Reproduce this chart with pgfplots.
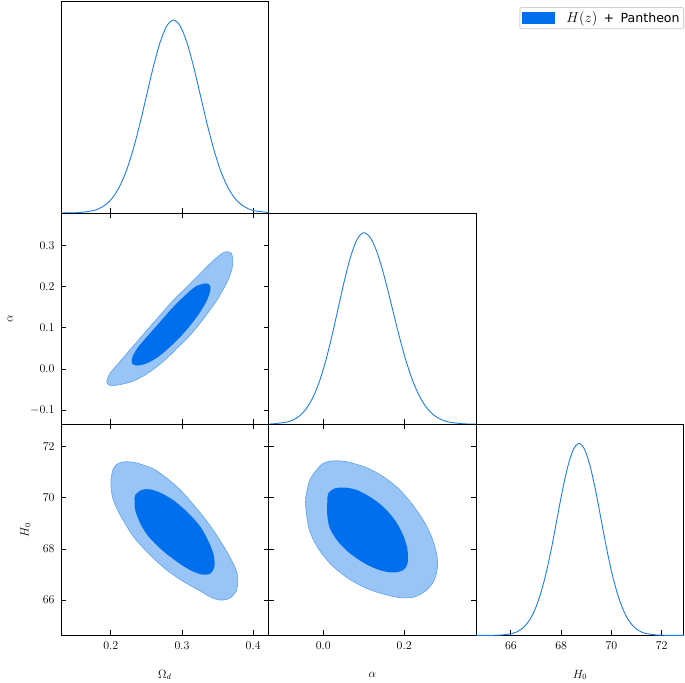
\documentclass[border=0pt]{standalone}
\usepackage{fontspec}
\usepackage{pgfplots}
\pgfplotsset{compat=1.18}
\newfontfamily\djv{DejaVu Sans}
\definecolor{cdark}{HTML}{006FED}
\definecolor{clight}{HTML}{99C4F6}
\definecolor{cedge}{HTML}{5EA2F2}
\definecolor{cline}{HTML}{1A7DF0}
\pgfplotsset{
  tri/.style={scale only axis, width=207.6bp, height=211.2bp,
    axis line style={line width=0.8bp, black},
    tick style={line width=0.8bp, black},
    major tick length=5bp, tick align=inside,
    ticklabel style={font=\fontsize{12}{14}\selectfont},
    label style={font=\fontsize{12}{14}\selectfont},
    xlabel style={at={(axis description cs:0.5,-0.187)}, anchor=center},
    xticklabel style={yshift=-3bp},
    yticklabel style={xshift=-3bp},
    anchor=south west},
  one/.style={tri, ytick=\empty, xtick pos=left, xticklabel=\empty},
  c1/.style={fill=clight, draw=cedge, line width=0.6bp, smooth cycle},
  c2/.style={fill=cdark, draw=none, smooth cycle},
  l1/.style={cline, line width=0.9bp, smooth, no marks}
}
\begin{document}
\begin{tikzpicture}[x=1bp,y=1bp]
\useasboundingbox (0,0) rectangle (685,683);
% ---------- top-left: Omega_d marginal ----------
\begin{axis}[one, at={(61bp,470bp)},
  xmin=0.130, xmax=0.4216, ymin=0, ymax=1.095,
  xtick={0.2,0.3,0.4},
  legend style={at={(axis description cs:3.001,0.975)}, anchor=north east,
    draw=black!18, rounded corners=2bp, line width=0.8bp,
    font=\fontsize{12.6}{14}\selectfont, inner xsep=2bp, inner ysep=2.5bp,
    /tikz/every odd column/.append style={column sep=10bp}},
  legend cell align=left]
\addlegendimage{legend image code/.code={\fill[cdark, sharp corners] (0bp,-5.8bp) rectangle (31.7bp,5.8bp);}}
\addlegendentry{{\fontsize{14}{16}\selectfont$H(z)$}\hspace{6.5bp}{\djv +}\hspace{6.5bp}{\djv Pantheon}}
\addplot[l1] coordinates {
(0.130,0.0002) (0.136,0.0003) (0.155,0.0022) (0.174,0.0111) (0.1835,0.0228)
(0.193,0.0439) (0.2025,0.0796) (0.212,0.1353) (0.2215,0.2163) (0.231,0.3247)
(0.2405,0.4578) (0.250,0.6065) (0.2595,0.7548) (0.269,0.8825) (0.2785,0.9692)
(0.288,1.0) (0.2975,0.9692) (0.307,0.8825) (0.3165,0.7548) (0.326,0.6065)
(0.3355,0.4578) (0.345,0.3247) (0.3545,0.2163) (0.364,0.1353) (0.3735,0.0796)
(0.383,0.0439) (0.3925,0.0228) (0.402,0.0111) (0.421,0.0022)};
\end{axis}
% ---------- middle-left: Omega_d vs alpha ----------
\begin{axis}[tri, at={(61bp,258.8bp)},
  xmin=0.130, xmax=0.4216, ymin=-0.134, ymax=0.378,
  xtick={0.2,0.3,0.4}, xticklabel=\empty,
  ytick={-0.1,0,0.1,0.2,0.3}, yticklabels={$-0.1$,$0.0$,$0.1$,$0.2$,$0.3$},
  ylabel={$\alpha$}, ylabel style={at={(axis description cs:-0.2455,0.5)}, anchor=center}]
\addplot[c1] coordinates {
(0.3633,0.2841) (0.3694,0.2801) (0.3713,0.2639) (0.3703,0.2437) (0.3657,0.2195)
(0.3586,0.1953) (0.3492,0.1671) (0.3375,0.1388) (0.3234,0.1065) (0.3094,0.0783)
(0.2953,0.0541) (0.2812,0.0299) (0.2648,0.0056) (0.2483,-0.0145) (0.2296,-0.0307)
(0.2108,-0.0387) (0.1990,-0.0404) (0.1943,-0.0307) (0.1990,-0.0105) (0.2108,0.0137)
(0.2249,0.0420) (0.2389,0.0702) (0.2530,0.0985) (0.2695,0.1307) (0.2859,0.1630)
(0.3047,0.1953) (0.3234,0.2276) (0.3422,0.2599) (0.3563,0.2801)};
\addplot[c2] coordinates {
(0.3328,0.2074) (0.3389,0.2034) (0.3399,0.1913) (0.3352,0.1671) (0.3258,0.1388)
(0.3140,0.1106) (0.3000,0.0823) (0.2835,0.0541) (0.2671,0.0299) (0.2507,0.0137)
(0.2366,0.0081) (0.2296,0.0137) (0.2305,0.0299) (0.2389,0.0541) (0.2530,0.0823)
(0.2695,0.1146) (0.2859,0.1469) (0.3023,0.1751) (0.3187,0.1994)};
\end{axis}
% ---------- middle-centre: alpha marginal ----------
\begin{axis}[one, at={(268.6bp,258.8bp)},
  xmin=-0.135, xmax=0.378, ymin=0, ymax=1.103,
  xtick={0,0.2}]
\addplot[l1] coordinates {
(-0.135,0.0010) (-0.1218,0.0022) (-0.0900,0.0111) (-0.0741,0.0228) (-0.0583,0.0439)
(-0.0424,0.0796) (-0.0265,0.1353) (-0.0106,0.2163) (0.0053,0.3247) (0.0211,0.4578)
(0.0370,0.6065) (0.0529,0.7548) (0.0688,0.8825) (0.0846,0.9692) (0.1005,1.0)
(0.1180,0.9692) (0.1355,0.8825) (0.1530,0.7548) (0.1705,0.6065) (0.1880,0.4578)
(0.2055,0.3247) (0.2230,0.2163) (0.2405,0.1353) (0.2580,0.0796) (0.2755,0.0439)
(0.2930,0.0228) (0.3105,0.0111) (0.3455,0.0022) (0.378,0.0004)};
\end{axis}
% ---------- bottom-left: Omega_d vs H0 ----------
\begin{axis}[tri, at={(61bp,47.6bp)},
  xmin=0.130, xmax=0.4216, ymin=64.62, ymax=72.88,
  xtick={0.2,0.3,0.4}, xticklabels={$0.2$,$0.3$,$0.4$},
  ytick={66,68,70,72},
  xlabel={$\Omega_d$},
  ylabel={$H_0$}, ylabel style={at={(axis description cs:-0.171,0.5)}, anchor=center}]
\addplot[c1] coordinates {
(0.2108,71.35) (0.2202,71.41) (0.2319,71.39) (0.2460,71.28) (0.2624,71.09)
(0.2789,70.76) (0.2976,70.31) (0.3164,69.72) (0.3352,69.07) (0.3516,68.41)
(0.3657,67.76) (0.3751,67.24) (0.3784,66.85) (0.3765,66.39) (0.3680,66.09)
(0.3563,66.00) (0.3422,66.09) (0.3235,66.39) (0.3023,66.72) (0.2789,67.17)
(0.2554,67.76) (0.2319,68.48) (0.2131,69.33) (0.2028,69.98) (0.2000,70.63)
(0.2037,71.15)};
\addplot[c2] coordinates {
(0.2342,70.11) (0.2436,70.31) (0.2553,70.33) (0.2718,70.17) (0.2906,69.85)
(0.3093,69.39) (0.3258,68.87) (0.3375,68.28) (0.3445,67.76) (0.3455,67.30)
(0.3399,67.04) (0.3281,67.00) (0.3117,67.17) (0.2929,67.50) (0.2718,67.96)
(0.2530,68.48) (0.2413,69.00) (0.2342,69.52) (0.2333,69.85)};
\end{axis}
% ---------- bottom-centre: alpha vs H0 ----------
\begin{axis}[tri, at={(268.6bp,47.6bp)},
  xmin=-0.135, xmax=0.378, ymin=64.62, ymax=72.88,
  xtick={0,0.2}, xticklabels={$0.0$,$0.2$},
  ytick={66,68,70,72}, yticklabel=\empty,
  xlabel={$\alpha$}]
\addplot[c1] coordinates {
(0.0001,71.35) (0.0207,71.44) (0.0454,71.44) (0.0742,71.35) (0.1112,71.15)
(0.1482,70.83) (0.1853,70.37) (0.2182,69.78) (0.2470,69.13) (0.2676,68.48)
(0.2799,67.83) (0.2824,67.30) (0.2742,66.78) (0.2552,66.39) (0.2264,66.13)
(0.1935,66.09) (0.1523,66.22) (0.1071,66.46) (0.0618,66.85) (0.0206,67.37)
(-0.0123,68.02) (-0.0328,68.67) (-0.0411,69.33) (-0.0435,69.98) (-0.0328,70.70)
(-0.0164,71.09)};
\addplot[c2] coordinates {
(0.0124,70.17) (0.0289,70.37) (0.0536,70.40) (0.0824,70.31) (0.1153,70.04)
(0.1482,69.65) (0.1770,69.13) (0.1976,68.54) (0.2083,67.96) (0.2083,67.43)
(0.1976,67.17) (0.1728,67.08) (0.1400,67.17) (0.1030,67.43) (0.0659,67.83)
(0.0371,68.28) (0.0165,68.80) (0.0100,69.33) (0.0100,69.85)};
\end{axis}
% ---------- bottom-right: H0 marginal ----------
\begin{axis}[one, at={(476.2bp,47.6bp)},
  xmin=64.62, xmax=72.88, ymin=0, ymax=1.10,
  xtick={66,68,70,72}, xticklabels={$66$,$68$,$70$,$72$},
  xlabel={$H_0$}]
\addplot[l1] coordinates {
(64.62,0.0000) (65.21,0.0003) (65.65,0.0022) (66.085,0.0111) (66.30,0.0228)
(66.52,0.0439) (66.74,0.0796) (66.96,0.1353) (67.18,0.2163) (67.40,0.3247)
(67.62,0.4578) (67.835,0.6065) (68.05,0.7548) (68.27,0.8825) (68.49,0.9692)
(68.71,1.0) (68.93,0.9692) (69.15,0.8825) (69.37,0.7548) (69.585,0.6065)
(69.80,0.4578) (70.02,0.3247) (70.24,0.2163) (70.46,0.1353) (70.68,0.0796)
(70.90,0.0439) (71.12,0.0228) (71.335,0.0111) (71.77,0.0022) (72.21,0.0003)
(72.88,0.0000)};
\end{axis}
\end{tikzpicture}
\end{document}
